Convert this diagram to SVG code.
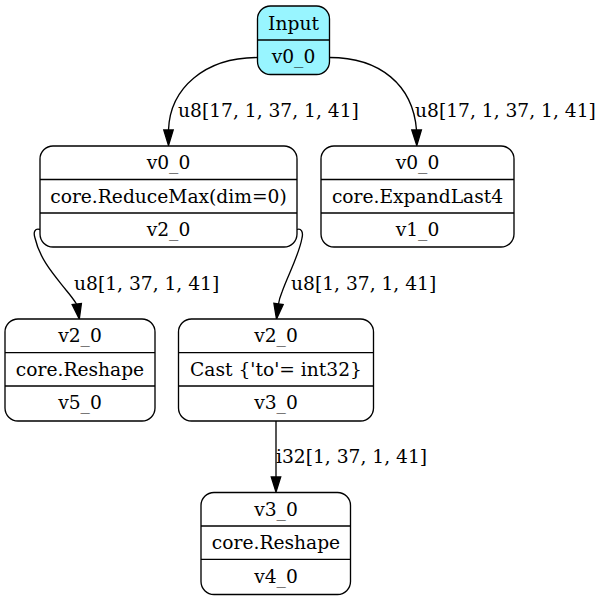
<svg xmlns="http://www.w3.org/2000/svg" width="602" height="601" viewBox="0 0 602 601">
<style>
.box{fill:#ffffff;stroke:#000;stroke-width:1.33}
.inp{fill:#98f5ff;stroke:#000;stroke-width:1.33}
.div{stroke:#000;stroke-width:1.33}
.t{font-family:"DejaVu Serif",serif;font-size:18.67px;fill:#000;text-anchor:middle}
.lbl{font-family:"DejaVu Serif",serif;font-size:18.67px;fill:#000;text-anchor:start}
.e{fill:none;stroke:#000;stroke-width:1.33}
.ah{fill:#000;stroke:#000;stroke-width:1.33}
</style>
<rect width="602" height="601" fill="#fff"/>
<g id="edges">
<path class="e" d="M257.5,57.5 C205,57.5 170,88 168.5,130"/>
<polygon class="ah" points="163.8,130 168.5,145.5 173.2,130"/>
<text class="lbl" x="178" y="117">u8[17, 1, 37, 1, 41]</text>
<path class="e" d="M329.5,57.5 C380,57.5 413,85 416.5,130"/>
<polygon class="ah" points="411.8,130 416.8,145.5 421.4,130"/>
<text class="lbl" x="415" y="117">u8[17, 1, 37, 1, 41]</text>
<path class="e" d="M40,229.5 C35,228 33,232 35,238 C40,260 55,276 66,290 C71,296 74,300 76.5,304"/>
<polygon class="ah" points="72.2,304.6 79.3,319 81.4,303.4"/>
<text class="lbl" x="74" y="290">u8[1, 37, 1, 41]</text>
<path class="e" d="M297,229.5 C301,228 303.5,232 302,238 C299,255 288,275 282,292 C280,297 279,300 278.5,304"/>
<polygon class="ah" points="283.1,304.6 276.5,319 273.9,303.4"/>
<text class="lbl" x="291" y="290">u8[1, 37, 1, 41]</text>
<path class="e" d="M276,421 L276,477"/>
<polygon class="ah" points="271.3,477 276,492 280.7,477"/>
<text class="lbl" x="276" y="463">i32[1, 37, 1, 41]</text>
</g>
<g id="input">
<rect class="inp" x="257.5" y="6" width="72" height="68.5" rx="13" ry="13"/>
<line class="div" x1="257.5" y1="40" x2="329.5" y2="40"/>
<text class="t" x="293.5" y="29.5">Input</text>
<text class="t" x="293.5" y="63">v0_0</text>
</g>
<g id="reducemax">
<rect class="box" x="40" y="146" width="257" height="101" rx="13" ry="13"/>
<line class="div" x1="40" y1="179.5" x2="297" y2="179.5"/>
<line class="div" x1="40" y1="213" x2="297" y2="213"/>
<text class="t" x="168.5" y="169">v0_0</text>
<text class="t" x="168.5" y="202.5">core.ReduceMax(dim=0)</text>
<text class="t" x="168.5" y="236">v2_0</text>
</g>
<g id="expandlast4">
<rect class="box" x="321" y="146" width="193" height="101" rx="13" ry="13"/>
<line class="div" x1="321" y1="179.5" x2="514" y2="179.5"/>
<line class="div" x1="321" y1="213" x2="514" y2="213"/>
<text class="t" x="417.5" y="169">v0_0</text>
<text class="t" x="417.5" y="202.5">core.ExpandLast4</text>
<text class="t" x="417.5" y="236">v1_0</text>
</g>
<g id="reshape5">
<rect class="box" x="5" y="319" width="150" height="102" rx="13" ry="13"/>
<line class="div" x1="5" y1="352.7" x2="155" y2="352.7"/>
<line class="div" x1="5" y1="386" x2="155" y2="386"/>
<text class="t" x="80" y="342">v2_0</text>
<text class="t" x="80" y="375.5">core.Reshape</text>
<text class="t" x="80" y="409">v5_0</text>
</g>
<g id="cast">
<rect class="box" x="178.5" y="319" width="195" height="102" rx="13" ry="13"/>
<line class="div" x1="178.5" y1="352.7" x2="373.5" y2="352.7"/>
<line class="div" x1="178.5" y1="386" x2="373.5" y2="386"/>
<text class="t" x="276" y="342">v2_0</text>
<text class="t" x="276" y="375.5">Cast {'to'= int32}</text>
<text class="t" x="276" y="409">v3_0</text>
</g>
<g id="reshape4">
<rect class="box" x="201" y="492.5" width="149.5" height="102" rx="13" ry="13"/>
<line class="div" x1="201" y1="526" x2="350.5" y2="526"/>
<line class="div" x1="201" y1="559.3" x2="350.5" y2="559.3"/>
<text class="t" x="276" y="515.5">v3_0</text>
<text class="t" x="276" y="549">core.Reshape</text>
<text class="t" x="276" y="582.5">v4_0</text>
</g>
</svg>
